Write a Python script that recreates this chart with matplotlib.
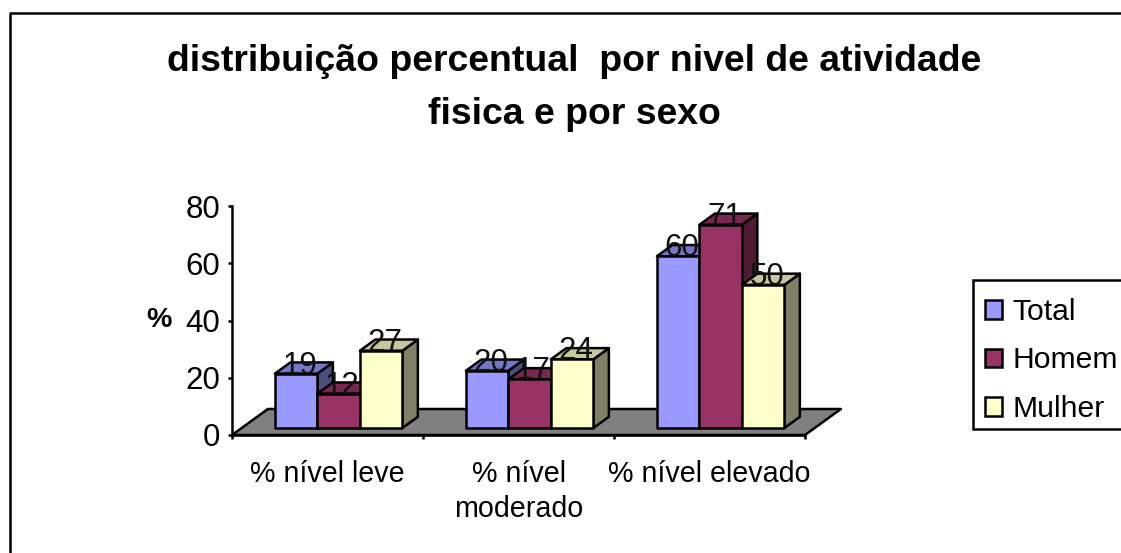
"""
distribuicao percentual - barras com falso 3D (estilo Excel)
"""

import matplotlib
matplotlib.use("Agg")
import matplotlib.pyplot as plt
from matplotlib.colors import to_rgb
from matplotlib.lines import Line2D
from matplotlib.patches import Patch, Polygon, Rectangle

plt.rcParams.update({
    "font.family": ["Liberation Sans", "DejaVu Sans"],
    "font.size": 22.5,
    "axes.linewidth": 1.8,
})

categories = ["% nível leve", "% nível\nmoderado", "% nível elevado"]
series_names = ["Total", "Homem", "Mulher"]
total = [19, 20, 60]
homem = [12, 17, 71]
mulher = [27, 24, 50]
colors = ["#9999FF", "#993366", "#FFFFCC"]
y_ticks = [0, 20, 40, 60, 80]

W, H = 1121, 553

# deslocamento do piso em unidades de dados
DEPTH_X = 0.188
DEPTH_Y = 9.08
BAR_W = 0.2225
BAR_X0 = 0.174
D_FRONT = 0.27
D_BACK = 0.70
LW = 1.8


def shade(color, f):
    return tuple(c * f for c in to_rgb(color))


def proj(x, v, d):
    return (x + d * DEPTH_X, v + d * DEPTH_Y)


def face(ax, pts, color, z):
    ax.add_patch(Polygon(pts, closed=True, facecolor=color, edgecolor="black",
                         linewidth=LW, joinstyle="round", clip_on=False, zorder=z))


def draw_bar(ax, x, v, color, z):
    x1 = x + BAR_W
    # lateral, topo e frente, nessa ordem
    face(ax, [proj(x1, 0, D_FRONT), proj(x1, 0, D_BACK),
              proj(x1, v, D_BACK), proj(x1, v, D_FRONT)], shade(color, 0.5), z)
    face(ax, [proj(x, v, D_FRONT), proj(x1, v, D_FRONT),
              proj(x1, v, D_BACK), proj(x, v, D_BACK)], shade(color, 0.78), z)
    face(ax, [proj(x, 0, D_FRONT), proj(x1, 0, D_FRONT),
              proj(x1, v, D_FRONT), proj(x, v, D_FRONT)], color, z)


fig = plt.figure(figsize=(W / 100, H / 100), dpi=100)
ax = fig.add_axes([232 / W, 1 - 435 / H, 573 / W, 229 / H])
ax.set_xlim(0, 3)
ax.set_ylim(0, 80)
ax.patch.set_visible(False)

for s in ["top", "right"]:
    ax.spines[s].set_visible(False)

# piso cinza
face(ax, [proj(0, 0, 0), proj(3, 0, 0), proj(3, 0, 1), proj(0, 0, 1)], "#808080", 1)

z = 2
for i in range(len(categories)):
    for j, vals in enumerate([total, homem, mulher]):
        draw_bar(ax, i + BAR_X0 + j * BAR_W, vals[i], colors[j], z)
        z += 1

# rotulos de valor por cima de tudo
for i in range(len(categories)):
    for j, vals in enumerate([total, homem, mulher]):
        px, py = proj(i + BAR_X0 + (j + 0.5) * BAR_W, vals[i], D_FRONT)
        ax.annotate(str(vals[i]), (px, py), xytext=(2.7, 0), textcoords="offset points",
                    ha="center", va="baseline", fontsize=22.5, color="#111111",
                    zorder=50, annotation_clip=False)

ax.set_yticks(y_ticks)
ax.set_xticks([0, 1, 2, 3])
ax.set_xticks([0.5, 1.5, 2.5], minor=True)
ax.set_xticklabels([])
ax.set_xticklabels(categories, minor=True, fontsize=20.6, linespacing=1.34)
ax.tick_params(axis="x", which="major", length=3, width=LW, direction="out")
ax.tick_params(axis="x", which="minor", length=0, pad=18)
ax.tick_params(axis="y", length=3, width=LW, direction="out", pad=5.3)

fig.text(159 / W, 1 - 320 / H, "%", fontweight="bold", fontsize=20.5,
         ha="center", va="center")

fig.text(574 / W, 1 - 88 / H, "distribuição percentual  por nivel de atividade\nfisica e por sexo",
         fontweight="bold", fontsize=26.9, ha="center", va="center", linespacing=1.66)

# legenda (moldura passa da borda direita)
fig.add_artist(Rectangle((973 / W, 1 - 429 / H), 200 / W, 149 / H, transform=fig.transFigure,
                         facecolor="white", edgecolor="black", linewidth=LW, zorder=3))
handles = [Patch(facecolor=c, edgecolor="black", linewidth=LW) for c in colors]
leg = fig.legend(handles, series_names, loc="center left", frameon=False,
                 bbox_to_anchor=(985 / W, 1 - 360.5 / H), fontsize=21.7,
                 handlelength=0.57, handleheight=0.57, handletextpad=0.33,
                 labelspacing=0.68, borderpad=0, borderaxespad=0)
leg.set_zorder(4)

# moldura externa: so esquerda e topo aparecem
fig.add_artist(Line2D([9.5 / W, 9.5 / W, 1], [0, 1 - 12.5 / H, 1 - 12.5 / H],
                      transform=fig.transFigure, color="black", linewidth=LW))

fig.savefig("out.png", dpi=100)
